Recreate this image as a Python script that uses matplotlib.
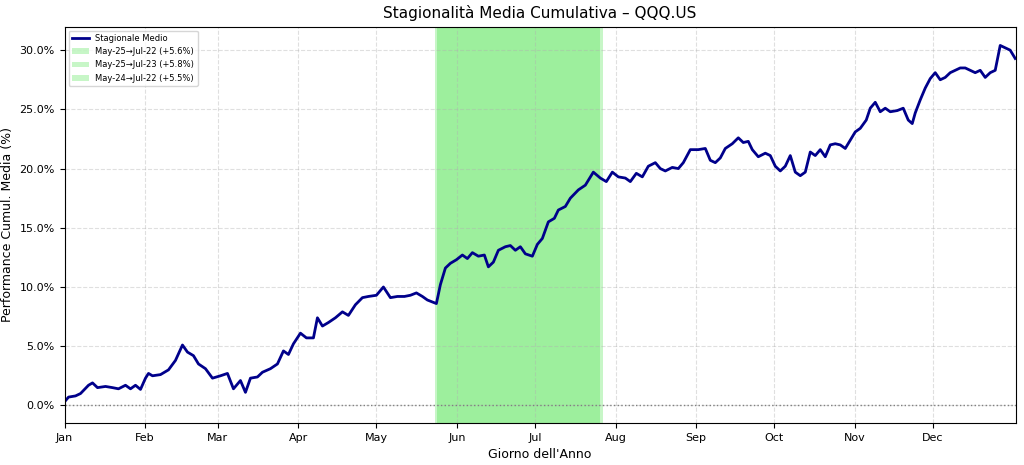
import matplotlib
matplotlib.use("Agg")
import matplotlib.pyplot as plt
import matplotlib.ticker as mtick

px = [64,68,75,80,88,92,97,105,112,118,125,130,135,140,145,148,152,160,168,175,182,187,193,198,205,212,220,227,233,240,245,250,257,262,270,277,283,288,293,300,306,313,317,322,328,335,342,348,355,362,368,376,383,390,397,404,410,416,422,427,433,436,440,445,450,456,462,467,472,478,484,488,493,498,505,510,515,520,525,532,537,542,548,554,558,565,570,578,585,593,600,606,612,618,625,630,636,642,648,655,660,665,672,678,683,690,698,705,710,715,720,725,732,738,743,748,752,758,765,770,775,780,785,790,795,800,805,810,815,820,825,830,835,840,845,850,855,860,866,870,875,880,885,890,897,903,908,912,915,920,925,930,935,940,945,950,955,960,965,970,975,980,985,990,995,1000,1005,1010,1015]
days = [(x - 64) / 2.6 for x in px]
values = [0.3,0.7,0.8,1.0,1.7,1.9,1.5,1.6,1.5,1.4,1.7,1.4,1.7,1.35,2.3,2.7,2.5,2.6,3.0,3.8,5.1,4.5,4.2,3.5,3.1,2.3,2.5,2.7,1.4,2.1,1.1,2.3,2.4,2.8,3.1,3.5,4.6,4.3,5.2,6.1,5.7,5.7,7.4,6.7,7.0,7.4,7.9,7.6,8.5,9.1,9.2,9.3,10.0,9.1,9.2,9.2,9.3,9.5,9.2,8.9,8.7,8.6,10.2,11.6,12.0,12.3,12.7,12.4,12.9,12.6,12.7,11.7,12.1,13.1,13.4,13.5,13.1,13.4,12.8,12.6,13.6,14.1,15.5,15.8,16.5,16.8,17.5,18.2,18.6,19.7,19.2,18.9,19.7,19.3,19.2,18.9,19.6,19.3,20.2,20.5,20.0,19.8,20.1,20.0,20.5,21.6,21.6,21.7,20.7,20.5,20.9,21.7,22.1,22.6,22.2,22.3,21.6,21.0,21.3,21.1,20.2,19.8,20.2,21.1,19.7,19.4,19.7,21.4,21.1,21.6,21.0,22.0,22.1,22.0,21.7,22.4,23.1,23.4,24.1,25.1,25.6,24.8,25.1,24.8,24.9,25.1,24.1,23.8,24.7,25.8,26.8,27.6,28.1,27.5,27.7,28.1,28.3,28.5,28.5,28.3,28.1,28.3,27.7,28.1,28.3,30.4,30.2,30.0,29.3]

windows = [(143.5, 206, "May-25→Jul-22 (+5.6%)"), (143.5, 207, "May-25→Jul-23 (+5.8%)"), (142.5, 206, "May-24→Jul-22 (+5.5%)")]
month_starts = [0,31,59,90,120,151,181,212,243,273,304,334]
month_labels = ["Jan","Feb","Mar","Apr","May","Jun","Jul","Aug","Sep","Oct","Nov","Dec"]

fig, ax = plt.subplots(figsize=(10.24, 4.65), dpi=100)
for s, e, lab in windows:
    ax.axvspan(s, e, color="lightgreen", alpha=0.5, lw=0, label=lab)
ax.plot(days, values, color="darkblue", lw=2, label="Stagionale Medio")
ax.axhline(0, color="gray", ls=":", lw=1)
ax.set_xlim(0, 366)
ax.set_ylim(-1.5, 32)
ax.set_xticks(month_starts)
ax.set_xticklabels(month_labels, fontsize=8)
ax.tick_params(axis="y", labelsize=8)
ax.yaxis.set_major_formatter(mtick.PercentFormatter(decimals=1))
ax.grid(True, ls="--", alpha=0.4)
ax.set_title("Stagionalità Media Cumulativa – QQQ.US", fontsize=11)
ax.set_xlabel("Giorno dell'Anno", fontsize=9)
ax.set_ylabel("Performance Cumul. Media (%)", fontsize=9)
h, l = ax.get_legend_handles_labels()
ax.legend(h[-1:] + h[:-1], l[-1:] + l[:-1], loc="upper left", fontsize=6)
fig.subplots_adjust(left=0.063, right=0.992, top=0.943, bottom=0.09)
fig.savefig("out.png", dpi=100)
